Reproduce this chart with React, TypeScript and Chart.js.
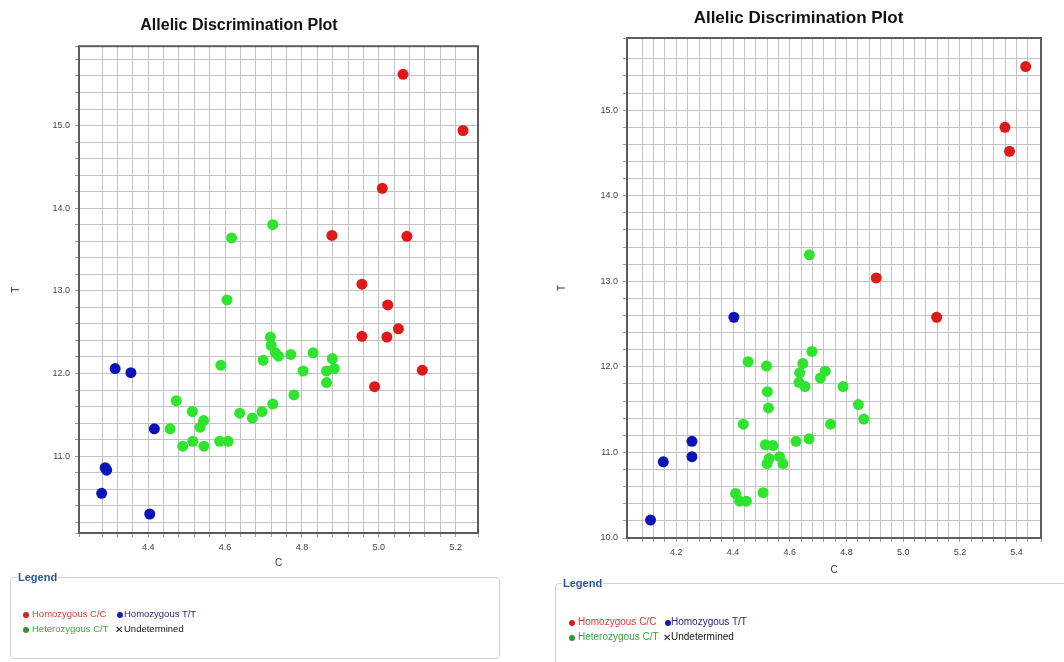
import React, { useEffect, useRef } from 'react';
import { Chart, registerables } from 'chart.js';

Chart.register(...registerables);

// ---------- Left plot data (C, T) ----------
const leftHomozygousCC: [number, number][] = [
  [5.063, 15.62], [5.219, 14.94], [5.009, 14.24], [4.878, 13.67], [5.073, 13.66],
  [4.956, 13.08], [5.023, 12.83], [4.956, 12.45], [5.021, 12.44], [5.051, 12.54],
  [5.113, 12.04], [4.989, 11.84],
];
const leftHomozygousTT: [number, number][] = [
  [4.314, 12.06], [4.355, 12.01], [4.416, 11.33], [4.288, 10.86], [4.292, 10.83],
  [4.279, 10.55], [4.404, 10.30],
];
const leftHeterozygousCT: [number, number][] = [
  [4.617, 13.64], [4.724, 13.80], [4.605, 12.89], [4.589, 12.10], [4.718, 12.44],
  [4.720, 12.34], [4.731, 12.25], [4.739, 12.21], [4.699, 12.16], [4.771, 12.23],
  [4.829, 12.25], [4.803, 12.03], [4.879, 12.18], [4.884, 12.06], [4.864, 12.03],
  [4.864, 11.89], [4.779, 11.74], [4.724, 11.63], [4.696, 11.54], [4.671, 11.46],
  [4.638, 11.52], [4.608, 11.18], [4.586, 11.18], [4.544, 11.43], [4.535, 11.35],
  [4.515, 11.54], [4.473, 11.67], [4.457, 11.33], [4.490, 11.12], [4.516, 11.18],
  [4.545, 11.12],
];

// ---------- Right plot data (C, T) ----------
const rightHomozygousCC: [number, number][] = [
  [5.432, 15.51], [5.359, 14.80], [5.375, 14.52], [4.905, 13.04], [5.118, 12.58],
];
const rightHomozygousTT: [number, number][] = [
  [4.403, 12.58], [4.255, 11.13], [4.255, 10.95], [4.154, 10.89], [4.109, 10.21],
];
const rightHeterozygousCT: [number, number][] = [
  [4.669, 13.31], [4.453, 12.06], [4.518, 12.01], [4.678, 12.18], [4.646, 12.04],
  [4.635, 11.93], [4.632, 11.82], [4.654, 11.77], [4.725, 11.95], [4.708, 11.87],
  [4.788, 11.77], [4.521, 11.71], [4.525, 11.52], [4.842, 11.56], [4.861, 11.39],
  [4.744, 11.33], [4.436, 11.33], [4.668, 11.16], [4.622, 11.13], [4.514, 11.09],
  [4.541, 11.08], [4.564, 10.95], [4.527, 10.93], [4.520, 10.87], [4.576, 10.87],
  [4.409, 10.52], [4.423, 10.43], [4.447, 10.43], [4.506, 10.53],
];

// ---------- Tick labels ----------
const leftXTickLabels = [4.4, 4.6, 4.8, 5.0, 5.2];
const leftYTickLabels = [11, 12, 13, 14, 15];
const rightXTickLabels = [4.2, 4.4, 4.6, 4.8, 5.0, 5.2, 5.4];
const rightYTickLabels = [10, 11, 12, 13, 14, 15];

const legendLabels = ['Homozygous C/C', 'Homozygous T/T', 'Heterozygous C/T', 'Undetermined'];

const FONT = '"Liberation Sans", Arial, sans-serif';
const RED = '#e01818';
const BLUE = '#0c14b8';
const GREEN = '#2ee42e';

const boxPlugin = {
  id: 'plotBox',
  beforeDatasetsDraw(chart: any) {
    const { ctx, chartArea: a } = chart;
    ctx.save();
    ctx.strokeStyle = '#5c5c5c';
    ctx.lineWidth = 2;
    ctx.strokeRect(a.left, a.top, a.right - a.left, a.bottom - a.top);
    ctx.restore();
  },
};

function labelCb(labels: number[]) {
  return (v: any) => {
    const n = Number(v);
    return labels.some((l) => Math.abs(l - n) < 1e-6) ? n.toFixed(1) : '';
  };
}

interface PanelProps {
  left: number;
  top: number;
  width: number;
  height: number;
  cc: [number, number][];
  tt: [number, number][];
  ct: [number, number][];
  xMin: number;
  xMax: number;
  yMin: number;
  yMax: number;
  xLabels: number[];
  yLabels: number[];
  padRight: number;
  titleSize: number;
  titleTop: number;
  titleBottom: number;
  yAxisW: number;
  xAxisH: number;
  yTitlePad: number;
}

function Panel(p: PanelProps) {
  const ref = useRef<HTMLCanvasElement | null>(null);
  useEffect(() => {
    if (!ref.current) return;
    const pts = (arr: [number, number][]) => arr.map(([x, y]) => ({ x, y }));
    const ds = (label: string, arr: [number, number][], color: string) => ({
      label,
      data: pts(arr),
      backgroundColor: color,
      borderColor: color,
      borderWidth: 0,
      pointRadius: 5.5,
    });
    const tickFont = { family: FONT, size: 9 };
    const chart = new Chart(ref.current, {
      type: 'scatter',
      data: {
        datasets: [
          ds(legendLabels[0], p.cc, RED),
          ds(legendLabels[1], p.tt, BLUE),
          ds(legendLabels[2], p.ct, GREEN),
        ],
      },
      options: {
        animation: false,
        responsive: false,
        devicePixelRatio: 1,
        events: [],
        layout: { padding: { left: 0, right: p.padRight, top: 0, bottom: 0 } },
        plugins: {
          legend: { display: false },
          tooltip: { enabled: false },
          title: {
            display: true,
            text: 'Allelic Discrimination Plot',
            color: '#111',
            font: { family: FONT, size: p.titleSize, weight: 'bold' },
            padding: { top: p.titleTop, bottom: p.titleBottom },
          },
        },
        scales: {
          x: {
            type: 'linear',
            min: p.xMin,
            max: p.xMax,
            afterFit: (s: any) => { s.height = p.xAxisH; },
            border: { display: false },
            grid: { color: '#c2c2c2', lineWidth: 1, tickLength: 4, tickColor: '#9a9a9a' },
            ticks: {
              stepSize: 0.04,
              autoSkip: false,
              maxRotation: 0,
              minRotation: 0,
              padding: 5,
              color: '#444',
              font: tickFont,
              callback: labelCb(p.xLabels),
            },
            title: {
              display: true,
              text: 'C',
              color: '#333',
              font: { family: FONT, size: 10 },
              padding: { top: 0, bottom: 6 },
            },
          },
          y: {
            type: 'linear',
            min: p.yMin,
            max: p.yMax,
            afterFit: (s: any) => { s.width = p.yAxisW; },
            border: { display: false },
            grid: { color: '#c2c2c2', lineWidth: 1, tickLength: 4, tickColor: '#9a9a9a' },
            ticks: {
              stepSize: 0.2,
              autoSkip: false,
              padding: 5,
              color: '#444',
              font: tickFont,
              callback: labelCb(p.yLabels),
            },
            title: {
              display: true,
              text: 'T',
              color: '#333',
              font: { family: FONT, size: 10 },
              padding: { top: p.yTitlePad, bottom: 0 },
            },
          },
        },
      },
      plugins: [boxPlugin],
    } as any);
    return () => chart.destroy();
  }, []);
  return (
    <canvas
      ref={ref}
      width={p.width}
      height={p.height}
      style={{ position: 'absolute', left: p.left, top: p.top, width: p.width, height: p.height }}
    />
  );
}

interface LegendProps {
  left: number;
  top: number;
  width: number;
  height: number;
  fontSize: number;
  row1: number;
  row2: number;
  dot1: number;
  text1: number;
  dot2: number;
  text2: number;
}

function LegendBox(l: LegendProps) {
  const dot = (x: number, y: number, color: string) => (
    <span
      style={{
        position: 'absolute', left: x - 3, top: y - 2, width: 6, height: 6,
        borderRadius: 3, background: color,
      }}
    />
  );
  const text = (x: number, y: number, s: string, color: string) => (
    <span
      style={{
        position: 'absolute', left: x, top: y - l.fontSize * 0.6, fontSize: l.fontSize,
        lineHeight: `${l.fontSize * 1.2}px`, color, whiteSpace: 'nowrap', fontFamily: FONT,
      }}
    >
      {s}
    </span>
  );
  return (
    <div
      style={{
        position: 'absolute', left: l.left, top: l.top, width: l.width, height: l.height,
        border: '1px solid #d2d2d2', borderRadius: 4, boxSizing: 'border-box',
      }}
    >
      <span
        style={{
          position: 'absolute', left: 6, top: -8, background: '#fff', padding: '0 1px',
          fontFamily: FONT, fontWeight: 'bold', fontSize: 11, lineHeight: '14px', color: '#2456a0',
        }}
      >
        Legend
      </span>
      {dot(l.dot1, l.row1, '#d42020')}
      {text(l.text1, l.row1, legendLabels[0], '#d23a3a')}
      {dot(l.dot2, l.row1, '#1a1aa8')}
      {text(l.text2, l.row1, legendLabels[1], '#262680')}
      {dot(l.dot1, l.row2, '#2a9a2a')}
      {text(l.text1, l.row2, legendLabels[2], '#38a838')}
      <span
        style={{
          position: 'absolute', left: l.dot2 - 5, top: l.row2 - 5, fontSize: 10, lineHeight: '12px',
          fontFamily: '"DejaVu Sans", sans-serif', color: '#111',
        }}
      >
        ✕
      </span>
      {text(l.text2, l.row2, legendLabels[3], '#111')}
    </div>
  );
}

export default function App() {
  return (
    <div
      style={{
        position: 'absolute', left: 0, top: 0, width: 1064, height: 662,
        overflow: 'hidden', background: '#fff', fontFamily: FONT,
      }}
    >
      <Panel
        left={0} top={0} width={512} height={575}
        cc={leftHomozygousCC} tt={leftHomozygousTT} ct={leftHeterozygousCT}
        xMin={4.22} xMax={5.258} yMin={10.07} yMax={15.96}
        xLabels={leftXTickLabels} yLabels={leftYTickLabels}
        padRight={34} titleSize={16} titleTop={16} titleBottom={11}
        yAxisW={79} xAxisH={42} yTitlePad={10}
      />
      <Panel
        left={556} top={0} width={508} height={582}
        cc={rightHomozygousCC} tt={rightHomozygousTT} ct={rightHeterozygousCT}
        xMin={4.026} xMax={5.486} yMin={10} yMax={15.844}
        xLabels={rightXTickLabels} yLabels={rightYTickLabels}
        padRight={23} titleSize={17} titleTop={8} titleBottom={9.6}
        yAxisW={71} xAxisH={44} yTitlePad={0}
      />
      <LegendBox
        left={10} top={577} width={490} height={82} fontSize={9.5}
        row1={36} row2={51} dot1={15} text1={21} dot2={109} text2={113}
      />
      <LegendBox
        left={555} top={583} width={540} height={100} fontSize={10}
        row1={38} row2={53} dot1={16} text1={22} dot2={112} text2={115}
      />
    </div>
  );
}
